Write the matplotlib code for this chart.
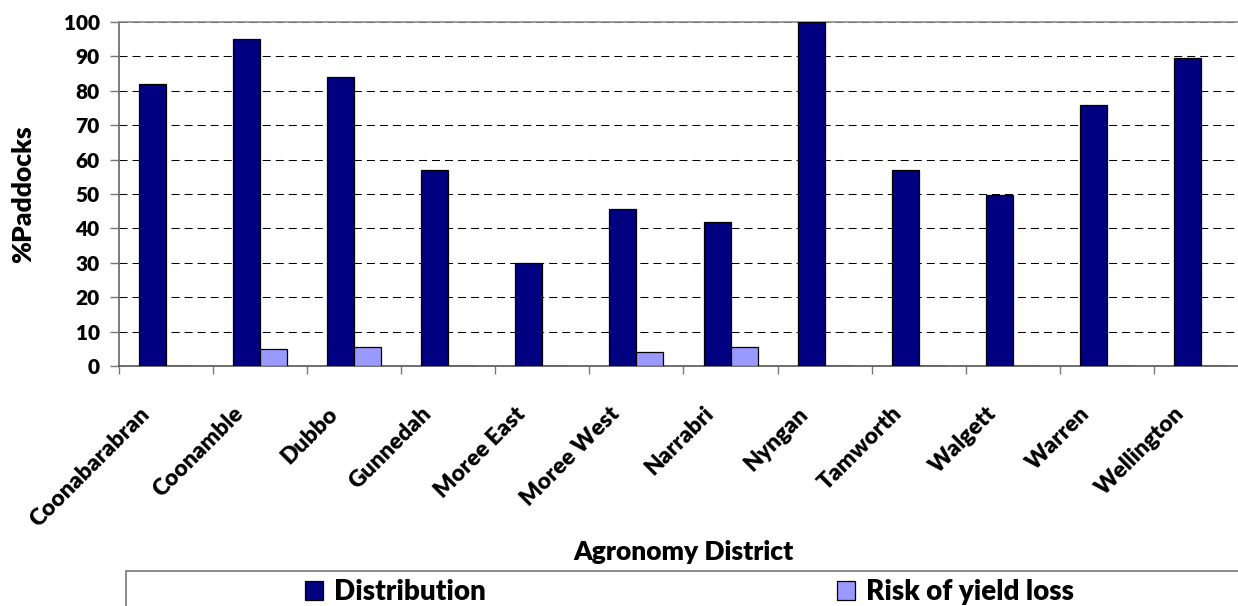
import matplotlib
matplotlib.use("Agg")
import matplotlib.pyplot as plt
from matplotlib.patches import Patch, Rectangle
from matplotlib.ticker import FixedLocator
import matplotlib.transforms as mtrans
import numpy as np

plt.rcParams['font.family'] = ['Lato', 'DejaVu Sans']
WT = 800

districts = ["Coonabarabran", "Coonamble", "Dubbo", "Gunnedah", "Moree East",
             "Moree West", "Narrabri", "Nyngan", "Tamworth", "Walgett",
             "Warren", "Wellington"]
distribution = [82, 95, 84, 57, 30, 45.6, 42, 100, 57, 49.7, 76, 89.6]
risk = [0, 5, 5.5, 0, 0, 4.2, 5.5, 0, 0, 0, 0, 0]
series_names = ["Distribution", "Risk of yield loss"]
yticks = [0, 10, 20, 30, 40, 50, 60, 70, 80, 90, 100]

dark = "#000080"
light = "#9999FF"

W, H = 1238, 606
fig = plt.figure(figsize=(W / 100, H / 100), dpi=100)
ax = fig.add_axes([119 / W, 1 - 366 / H, (1248 - 119) / W, 344 / H])

x = np.arange(len(districts))
bw = 0.287
ax.bar(x - bw / 2, distribution, width=bw, color=dark, edgecolor="black",
       linewidth=0.9, zorder=3)
ax.bar(x + bw / 2, risk, width=bw, color=light, edgecolor="black",
       linewidth=0.9, zorder=3)

ax.set_xlim(-0.5, len(districts) - 0.5)
ax.set_ylim(0, 100)
ax.set_yticks(yticks)
ax.set_yticklabels([str(v) for v in yticks], fontsize=15, fontweight=WT)

ax.set_xticks(x)
ax.set_xticklabels(districts, rotation=45, ha='right', va='center',
                   rotation_mode='anchor', fontsize=16.5, fontweight=WT)
ax.xaxis.set_minor_locator(FixedLocator(np.arange(-0.5, len(districts), 1.0)))
ax.tick_params(axis='x', which='major', length=0, pad=32)
ax.tick_params(axis='x', which='minor', length=6, width=1, color='#777777',
               direction='out')
ax.tick_params(axis='y', which='major', length=6.5, width=1, color='#777777',
               direction='out', pad=7.5)
offset = mtrans.ScaledTranslation(-20 / 100, 0, fig.dpi_scale_trans)
for lab in ax.get_xticklabels():
    lab.set_transform(lab.get_transform() + offset)

ax.set_axisbelow(True)
ax.yaxis.grid(True, color='black', linewidth=0.75, linestyle=(0, (7.7, 4.8)))
for side in ['top', 'left', 'bottom', 'right']:
    ax.spines[side].set_linewidth(1.2)
ax.spines['top'].set_color('#8c8c8c')
ax.spines['right'].set_color('#8c8c8c')
ax.spines['left'].set_color('#666666')
ax.spines['bottom'].set_color('#555555')

ax.set_ylabel("%Paddocks", fontsize=19, fontweight=WT)
ax.yaxis.label.set_va('center')
ax.yaxis.set_label_coords(-96 / 1129, 0.5)
ax.set_xlabel("Agronomy District", fontsize=19, fontweight=WT)
ax.xaxis.label.set_va('baseline')
ax.xaxis.set_label_coords(0.5, (366 - 560) / 344)

# legend frame
fig.patches.append(Rectangle((126 / W, -0.1), 1.2, 0.1 + (1 - 571 / H),
                             transform=fig.transFigure, facecolor='none',
                             edgecolor='#777777', linewidth=1.2))
handles = [Patch(facecolor=dark, edgecolor='black', linewidth=0.9),
           Patch(facecolor=light, edgecolor='black', linewidth=0.9)]
hx = [305, 837]
for h, name, px in zip(handles, series_names, hx):
    fig.legend([h], [name], loc='center left',
               bbox_to_anchor=(px / W, 1 - 592 / H), frameon=False,
               borderpad=0, borderaxespad=0, handlelength=0.65,
               handleheight=0.65, handletextpad=0.4,
               prop={'size': 20, 'weight': WT})

fig.savefig("out.png", dpi=100)
